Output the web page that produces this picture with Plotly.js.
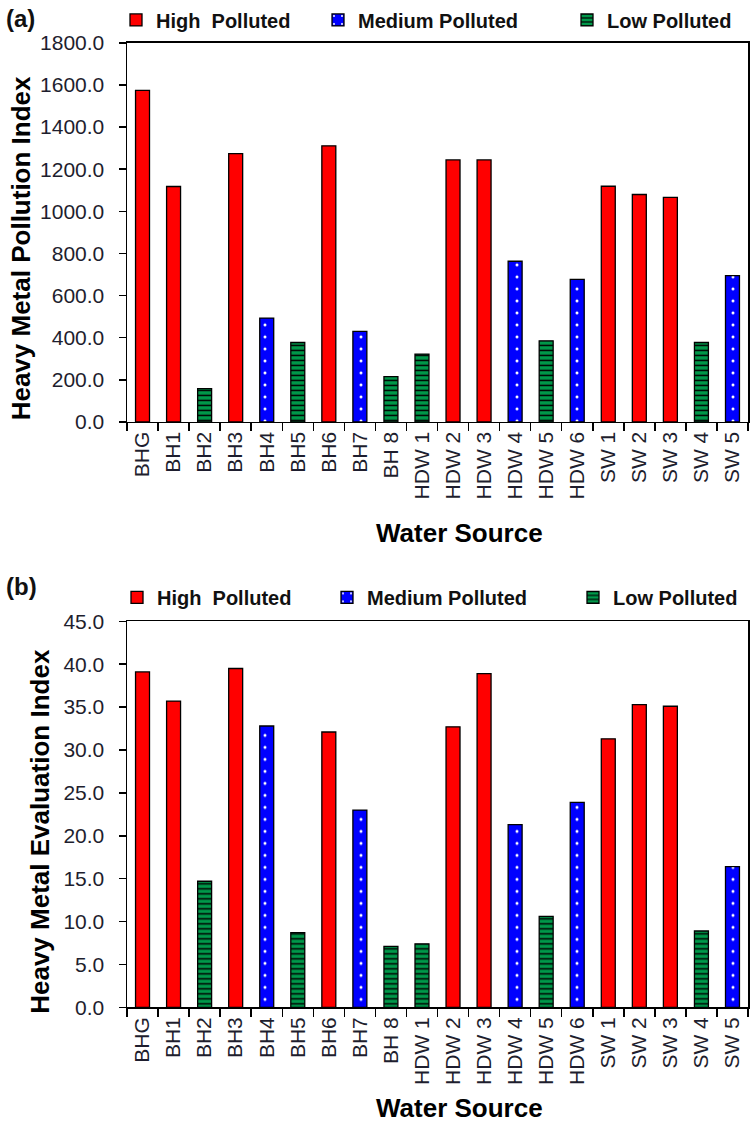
<!DOCTYPE html>
<html>
<head>
<meta charset="utf-8">
<script src="https://cdn.plot.ly/plotly-3.0.1.min.js"></script>
<style>
  html, body { margin: 0; padding: 0; background: #fff; }
  #chart { width: 750px; height: 1124px; }
</style>
</head>
<body>
<div id="chart"></div>
<script>
// Water sources sampled
const sources = ['BHG', 'BH1', 'BH2', 'BH3', 'BH4', 'BH5', 'BH6', 'BH7', 'BH 8',
  'HDW 1', 'HDW 2', 'HDW 3', 'HDW 4', 'HDW 5', 'HDW 6',
  'SW 1', 'SW 2', 'SW 3', 'SW 4', 'SW 5'];

// Pollution class of each source: H = high, M = medium, L = low
const pollutionClass = ['H', 'H', 'L', 'H', 'M', 'L', 'H', 'M', 'L',
  'L', 'H', 'H', 'M', 'L', 'M',
  'H', 'H', 'H', 'L', 'M'];

// Heavy Metal Pollution Index (HPI)
const hpi = [1574, 1118, 158, 1274, 493, 377, 1311, 430, 215,
  322, 1244, 1244, 763, 385, 677,
  1119, 1080, 1066, 377, 695];

// Heavy Metal Evaluation Index (HEI)
const hei = [39.1, 35.7, 14.7, 39.5, 32.8, 8.7, 32.1, 23.0, 7.1,
  7.4, 32.7, 38.9, 21.3, 10.6, 23.9,
  31.3, 35.3, 35.1, 8.9, 16.4];

const classNames = { H: 'High  Polluted', M: 'Medium Polluted', L: 'Low Polluted' };

// fill style per class
const classStyle = {
  H: { color: '#ff0000', pattern: { shape: '' } },
  M: { color: '#0000ff', pattern: { shape: '.', fgcolor: '#ffffff', bgcolor: '#0000ff', size: 12, solidity: 0.05, fillmode: 'replace' } },
  L: { color: '#00994a', pattern: { shape: '-', fgcolor: '#000000', bgcolor: '#00994a', size: 5, solidity: 0.3, fillmode: 'replace' } }
};

const W = 750, H = 1124;
const px = v => v / W;            // horizontal pixel -> paper
const py = v => 1 - v / H;        // vertical pixel -> paper

function panelTraces(values, xa, ya, legendIds) {
  return ['H', 'M', 'L'].map((k, i) => ({
    type: 'bar',
    name: classNames[k],
    x: sources,
    y: values.map((v, j) => pollutionClass[j] === k ? v : null),
    xaxis: xa, yaxis: ya,
    width: 0.45,
    legend: legendIds[i],
    marker: {
      color: classStyle[k].color,
      pattern: classStyle[k].pattern,
      line: { color: '#000000', width: 1.3 }
    },
    hoverinfo: 'x+y'
  }));
}

const data = [].concat(
  panelTraces(hpi, 'x', 'y', ['legend', 'legend2', 'legend3']),
  panelTraces(hei, 'x2', 'y2', ['legend4', 'legend5', 'legend6'])
);

const tickFont = { family: 'Arial, "Liberation Sans", sans-serif', size: 21, color: '#1e1e2e' };
const titleFont = { family: 'Arial, "Liberation Sans", sans-serif', size: 26, color: '#000000', weight: 'bold' };
const legendFont = { family: 'Arial, "Liberation Sans", sans-serif', size: 20, color: '#111111', weight: 'bold' };

function xAxis(anchor) {
  return {
    domain: [px(127), px(748)],
    anchor: anchor,
    type: 'category',
    showline: true, linecolor: '#000', linewidth: 1.5, mirror: true,
    ticks: 'outside', tickson: 'boundaries', ticklen: 8, tickcolor: '#000', tickwidth: 1.5,
    tickangle: -90,
    tickfont: tickFont,
    showgrid: false, zeroline: false,
    fixedrange: true
  };
}

function yAxis(anchor, top, bottom, maxV, step) {
  return {
    domain: [py(bottom), py(top)],
    anchor: anchor,
    range: [0, maxV],
    dtick: step, tick0: 0,
    tickformat: '.1f',
    showline: true, linecolor: '#000', linewidth: 1.5, mirror: true,
    ticks: 'outside', ticklen: 7, tickcolor: '#000', tickwidth: 1.5,
    ticklabelstandoff: 10,
    tickfont: { family: 'Arial, "Liberation Sans", sans-serif', size: 21, color: '#1e1e2e' },
    showgrid: false, zeroline: false,
    fixedrange: true
  };
}

function legendAt(xPix, yPix) {
  return {
    x: px(xPix), xanchor: 'left', xref: 'paper',
    y: py(yPix), yanchor: 'middle', yref: 'paper',
    orientation: 'h',
    bgcolor: 'rgba(0,0,0,0)',
    borderwidth: 0,
    font: legendFont
  };
}

const layout = {
  width: W, height: H,
  margin: { l: 0, r: 0, t: 0, b: 0 },
  paper_bgcolor: '#ffffff',
  plot_bgcolor: '#ffffff',
  barmode: 'overlay',
  showlegend: true,
  xaxis: xAxis('y'),
  yaxis: yAxis('x', 40, 420, 1800, 200),
  xaxis2: xAxis('y2'),
  yaxis2: yAxis('x2', 620, 1007, 45, 5),
  legend: legendAt(116, 17),
  legend2: legendAt(318, 17),
  legend3: legendAt(567, 17),
  legend4: legendAt(117, 596),
  legend5: legendAt(327, 596),
  legend6: legendAt(573, 596),
  annotations: [
    { text: '(a)', x: px(4), y: py(16), xref: 'paper', yref: 'paper', xanchor: 'left', yanchor: 'middle', showarrow: false,
      font: { family: 'Arial, sans-serif', size: 24, color: '#111', weight: 'bold' } },
    { text: '(b)', x: px(4), y: py(585), xref: 'paper', yref: 'paper', xanchor: 'left', yanchor: 'middle', showarrow: false,
      font: { family: 'Arial, sans-serif', size: 24, color: '#111', weight: 'bold' } },
    { text: 'Heavy Metal Pollution Index', textangle: -90, x: px(21), y: py(246), xref: 'paper', yref: 'paper',
      xanchor: 'center', yanchor: 'middle', showarrow: false, font: titleFont },
    { text: 'Heavy Metal Evaluation Index', textangle: -90, x: px(40), y: py(831), xref: 'paper', yref: 'paper',
      xanchor: 'center', yanchor: 'middle', showarrow: false, font: titleFont },
    { text: 'Water Source', x: px(460), y: py(531), xref: 'paper', yref: 'paper',
      xanchor: 'center', yanchor: 'middle', showarrow: false, font: titleFont },
    { text: 'Water Source', x: px(460), y: py(1108), xref: 'paper', yref: 'paper',
      xanchor: 'center', yanchor: 'middle', showarrow: false, font: titleFont }
  ]
};

Plotly.newPlot('chart', data, layout, { staticPlot: true, displayModeBar: false });
</script>
</body>
</html>
